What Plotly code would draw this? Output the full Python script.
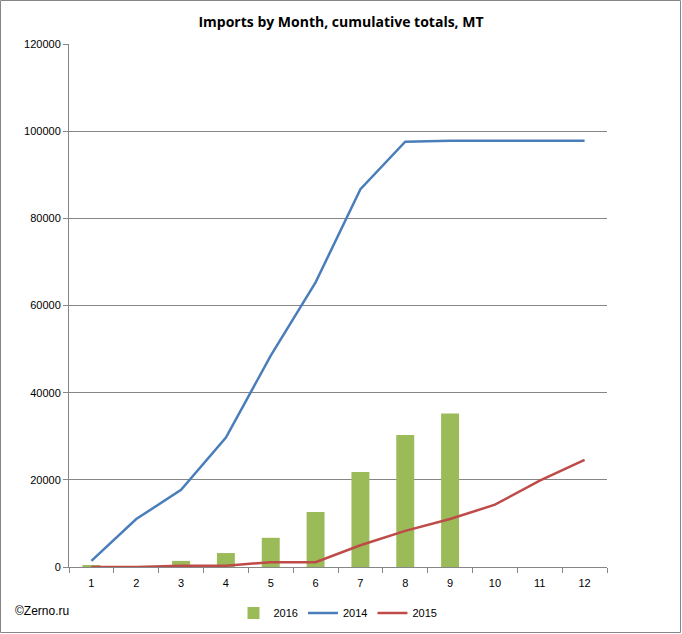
import plotly.graph_objects as go

months = [1, 2, 3, 4, 5, 6, 7, 8, 9, 10, 11, 12]
imports_2016 = [300, 0, 1400, 3200, 6700, 12600, 21800, 30300, 35200]
imports_2014 = [1400, 11000, 17700, 29700, 48500, 65300, 86700, 97600, 97800, 97800, 97800, 97800]
imports_2015 = [0, 0, 300, 300, 1100, 1100, 5000, 8300, 11000, 14300, 19800, 24600]

W, H = 682, 634
L, R, T, B = 69, 75, 44, 67
pw, ph = W - L - R, H - T - B

fig = go.Figure()
fig.add_trace(go.Bar(x=months[:len(imports_2016)], y=imports_2016, name='2016',
                     marker=dict(color='#9bbb59', line=dict(width=0))))
fig.add_trace(go.Scatter(x=months, y=imports_2014, mode='lines', name='2014',
                         line=dict(color='#4a7ebb', width=2.5)))
fig.add_trace(go.Scatter(x=months, y=imports_2015, mode='lines', name='2015',
                         line=dict(color='#be4b48', width=2.5)))

fig.update_layout(
    width=W, height=H,
    margin=dict(l=L, r=R, t=T, b=B, autoexpand=False),
    plot_bgcolor='white', paper_bgcolor='white',
    font=dict(family='Liberation Sans, Arial', size=11, color='black'),
    title=dict(text='<b>Imports by Month, cumulative totals, MT</b>', x=0.5, xanchor='center',
               y=1 - 22 / H, yanchor='middle', font=dict(size=14, family='Open Sans, Liberation Sans')),
    bargap=0.6,
    showlegend=True,
    legend=dict(orientation='h', x=0.5, xanchor='center', y=-(613 - 567) / ph, yanchor='middle',
                font=dict(size=11), itemwidth=30, tracegroupgap=0),
    xaxis=dict(type='category', tickmode='array', tickvals=months, ticktext=[str(m) for m in months],
               range=[-0.5, 11.5], showgrid=False, showline=True, linecolor='#868686', linewidth=1,
               ticks='outside', tickson='boundaries', ticklen=5, tickcolor='#868686', automargin=False,
               ticklabelstandoff=6),
    yaxis=dict(range=[0, 120000], dtick=20000, showgrid=True, gridcolor='#868686', gridwidth=1,
               showline=True, linecolor='#868686', linewidth=1, ticks='outside', ticklen=5,
               tickcolor='#868686', zeroline=False, tickformat='d', automargin=False),
    annotations=[dict(text='©Zerno.ru', xref='paper', yref='paper', x=-(L - 13) / pw, xanchor='left',
                      y=-(611 - 567) / ph, yanchor='middle', showarrow=False, font=dict(size=12))],
    shapes=[dict(type='rect', xref='paper', yref='paper', x0=-(L - 0.5) / pw, x1=(W - L - 1.5) / pw,
                 y0=-(B - 1.5) / ph, y1=(ph + T - 0.5) / ph, line=dict(color='#868686', width=1))],
)

fig.write_html("out.html", config={'displayModeBar': False},
               post_script="document.body.style.margin='0';")
